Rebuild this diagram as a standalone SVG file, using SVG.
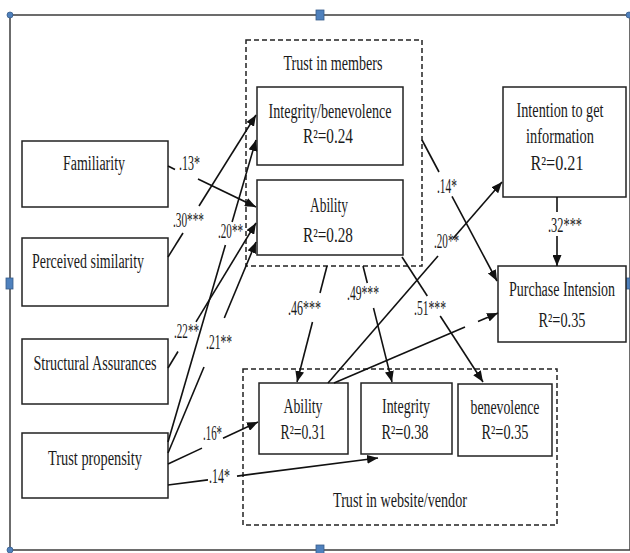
<svg xmlns="http://www.w3.org/2000/svg" width="630" height="553" viewBox="0 0 630 553">
  <style>
    .box { fill: #fff; stroke: #222; stroke-width: 1.5; }
    .grp { fill: none; stroke: #222; stroke-width: 1.5; stroke-dasharray: 5 3; }
    .t { font-family: "Liberation Serif", "Times New Roman", serif; font-size: 20px; fill: #1a1a1a; }
    .c { text-anchor: middle; }
    .ln { fill: none; stroke: #111; stroke-width: 1.6; }
    .ar { marker-end: url(#ah); }
    .frame { fill: none; stroke: #3c3c3c; stroke-width: 1.5; }
    .hd { fill: #4f81bd; stroke: #385d8a; stroke-width: 0.8; }
  </style>
  <defs>
    <marker id="ah" markerUnits="userSpaceOnUse" markerWidth="11" markerHeight="9" refX="11" refY="4.5" orient="auto">
      <path d="M0,0 L11,4.5 L0,9 Z" fill="#111"/>
    </marker>
  </defs>

  <rect width="630" height="553" fill="#fff"/>

  <!-- canvas frame with selection handles -->
  <g id="frame">
    <rect class="frame" x="10" y="15" width="620" height="535"/>
    <circle class="hd" cx="10" cy="15" r="3"/>
    <circle class="hd" cx="629" cy="15" r="3"/>
    <circle class="hd" cx="10" cy="550" r="3"/>
    <rect class="hd" x="316" y="10" width="8" height="10"/>
    <rect class="hd" x="6" y="278" width="7" height="11"/>
    <rect class="hd" x="624" y="278" width="6" height="11"/>
    <rect class="hd" x="316" y="545" width="8" height="9"/>
  </g>

  <!-- group frames -->
  <g id="trust-members">
    <rect class="grp" x="246" y="40" width="176" height="226"/>
    <text class="t c" x="333" y="70" textLength="99" lengthAdjust="spacingAndGlyphs">Trust in members</text>
  </g>
  <g id="trust-website">
    <rect class="grp" x="243" y="369" width="314" height="156"/>
    <text class="t c" x="400" y="507" textLength="134" lengthAdjust="spacingAndGlyphs">Trust in website/vendor</text>
  </g>

  <!-- antecedents -->
  <g id="familiarity">
    <rect class="box" x="22" y="141" width="146" height="66"/>
    <text class="t c" x="94" y="170" textLength="62" lengthAdjust="spacingAndGlyphs">Familiarity</text>
  </g>
  <g id="perceived-similarity">
    <rect class="box" x="22" y="238" width="146" height="68"/>
    <text class="t c" x="88" y="268" textLength="112" lengthAdjust="spacingAndGlyphs">Perceived similarity</text>
  </g>
  <g id="structural-assurances">
    <rect class="box" x="22" y="339" width="146" height="65"/>
    <text class="t c" x="95" y="370" textLength="123" lengthAdjust="spacingAndGlyphs">Structural Assurances</text>
  </g>
  <g id="trust-propensity">
    <rect class="box" x="22" y="433" width="146" height="65"/>
    <text class="t c" x="95" y="465" textLength="94" lengthAdjust="spacingAndGlyphs">Trust propensity</text>
  </g>

  <!-- trust in members -->
  <g id="members-integrity">
    <rect class="box" x="257" y="87" width="146" height="78"/>
    <text class="t c" x="330" y="118" textLength="123" lengthAdjust="spacingAndGlyphs">Integrity/benevolence</text>
    <text class="t c" x="328" y="143" textLength="50" lengthAdjust="spacingAndGlyphs">R²=0.24</text>
  </g>
  <g id="members-ability">
    <rect class="box" x="257" y="180" width="146" height="75"/>
    <text class="t c" x="329" y="212" textLength="38" lengthAdjust="spacingAndGlyphs">Ability</text>
    <text class="t c" x="328" y="242" textLength="50" lengthAdjust="spacingAndGlyphs">R²=0.28</text>
  </g>

  <!-- outcomes -->
  <g id="intention-info">
    <rect class="box" x="503" y="87" width="123" height="110"/>
    <text class="t c" x="560" y="117" textLength="87" lengthAdjust="spacingAndGlyphs">Intention to get</text>
    <text class="t c" x="560" y="143" textLength="68" lengthAdjust="spacingAndGlyphs">information</text>
    <text class="t c" x="557" y="170" textLength="53" lengthAdjust="spacingAndGlyphs">R²=0.21</text>
  </g>
  <g id="purchase-intension">
    <rect class="box" x="498" y="266" width="128" height="76"/>
    <text class="t c" x="562" y="296" textLength="106" lengthAdjust="spacingAndGlyphs">Purchase Intension</text>
    <text class="t c" x="562" y="327" textLength="47" lengthAdjust="spacingAndGlyphs">R²=0.35</text>
  </g>

  <!-- trust in website/vendor -->
  <g id="website-ability">
    <rect class="box" x="259" y="383" width="89" height="71"/>
    <text class="t c" x="303" y="413" textLength="39" lengthAdjust="spacingAndGlyphs">Ability</text>
    <text class="t c" x="303" y="439" textLength="45" lengthAdjust="spacingAndGlyphs">R²=0.31</text>
  </g>
  <g id="website-integrity">
    <rect class="box" x="361" y="383" width="91" height="71"/>
    <text class="t c" x="406" y="413" textLength="48" lengthAdjust="spacingAndGlyphs">Integrity</text>
    <text class="t c" x="405" y="439" textLength="47" lengthAdjust="spacingAndGlyphs">R²=0.38</text>
  </g>
  <g id="website-benevolence">
    <rect class="box" x="458" y="384" width="94" height="72"/>
    <text class="t c" x="505" y="414" textLength="69" lengthAdjust="spacingAndGlyphs">benevolence</text>
    <text class="t c" x="505" y="439" textLength="47" lengthAdjust="spacingAndGlyphs">R²=0.35</text>
  </g>

  <!-- paths, each split around its coefficient -->
  <g id="connectors">
    <path class="ln" d="M168,166 L175,169.5"/>
    <path class="ln ar" d="M198,179 L256,207"/>

    <path class="ln" d="M168,257 L183,233"/>
    <path class="ln ar" d="M199,206 L256,115"/>

    <path class="ln" d="M168,442 L225.4,245"/>
    <path class="ln ar" d="M232.1,222 L256,140"/>

    <path class="ln" d="M168,368 L178,351.5"/>
    <path class="ln ar" d="M196,321.9 L256,223"/>

    <path class="ln" d="M168,453 L204,367"/>
    <path class="ln ar" d="M224.3,318 L256,242"/>

    <path class="ln" d="M168,464 L202,448.1"/>
    <path class="ln ar" d="M223,438.3 L258,422"/>

    <path class="ln" d="M168,485 L208,479.9"/>
    <path class="ln ar" d="M237,476.1 L378,458"/>

    <path class="ln" d="M422,140 L439,172"/>
    <path class="ln ar" d="M452,196.4 L497,281"/>

    <path class="ln" d="M328,383 L438,256"/>
    <path class="ln ar" d="M453,238.6 L502,182"/>

    <path class="ln" d="M334,383 L465,327.1"/>
    <path class="ln ar" d="M478,321.5 L498,313"/>

    <path class="ln" d="M557,197 L557,212"/>
    <path class="ln ar" d="M557,236 L557,266"/>

    <path class="ln" d="M327,266 L320,293"/>
    <path class="ln ar" d="M312.5,322 L297,382"/>

    <path class="ln" d="M363,266 L367.3,283"/>
    <path class="ln ar" d="M373.5,308 L392,382"/>

    <path class="ln" d="M402,257 L427.3,296"/>
    <path class="ln ar" d="M440.2,316 L483,382"/>

    <g id="coefficients">
      <text class="t" x="179" y="170" textLength="21" lengthAdjust="spacingAndGlyphs">.13*</text>
      <text class="t" x="173" y="227" textLength="31" lengthAdjust="spacingAndGlyphs">.30***</text>
      <text class="t" x="218" y="238" textLength="25" lengthAdjust="spacingAndGlyphs">.20**</text>
      <text class="t" x="174" y="338" textLength="25" lengthAdjust="spacingAndGlyphs">.22**</text>
      <text class="t" x="206" y="349" textLength="26" lengthAdjust="spacingAndGlyphs">.21**</text>
      <text class="t" x="203" y="440" textLength="19" lengthAdjust="spacingAndGlyphs">.16*</text>
      <text class="t" x="209" y="483" textLength="21" lengthAdjust="spacingAndGlyphs">.14*</text>
      <text class="t" x="288" y="315" textLength="33" lengthAdjust="spacingAndGlyphs">.46***</text>
      <text class="t" x="347" y="300" textLength="32" lengthAdjust="spacingAndGlyphs">.49***</text>
      <text class="t" x="414" y="315" textLength="32" lengthAdjust="spacingAndGlyphs">.51***</text>
      <text class="t" x="437" y="193" textLength="20" lengthAdjust="spacingAndGlyphs">.14*</text>
      <text class="t" x="434" y="248" textLength="25" lengthAdjust="spacingAndGlyphs">.20**</text>
      <text class="t" x="548" y="232" textLength="34" lengthAdjust="spacingAndGlyphs">.32***</text>
    </g>
  </g>
</svg>
